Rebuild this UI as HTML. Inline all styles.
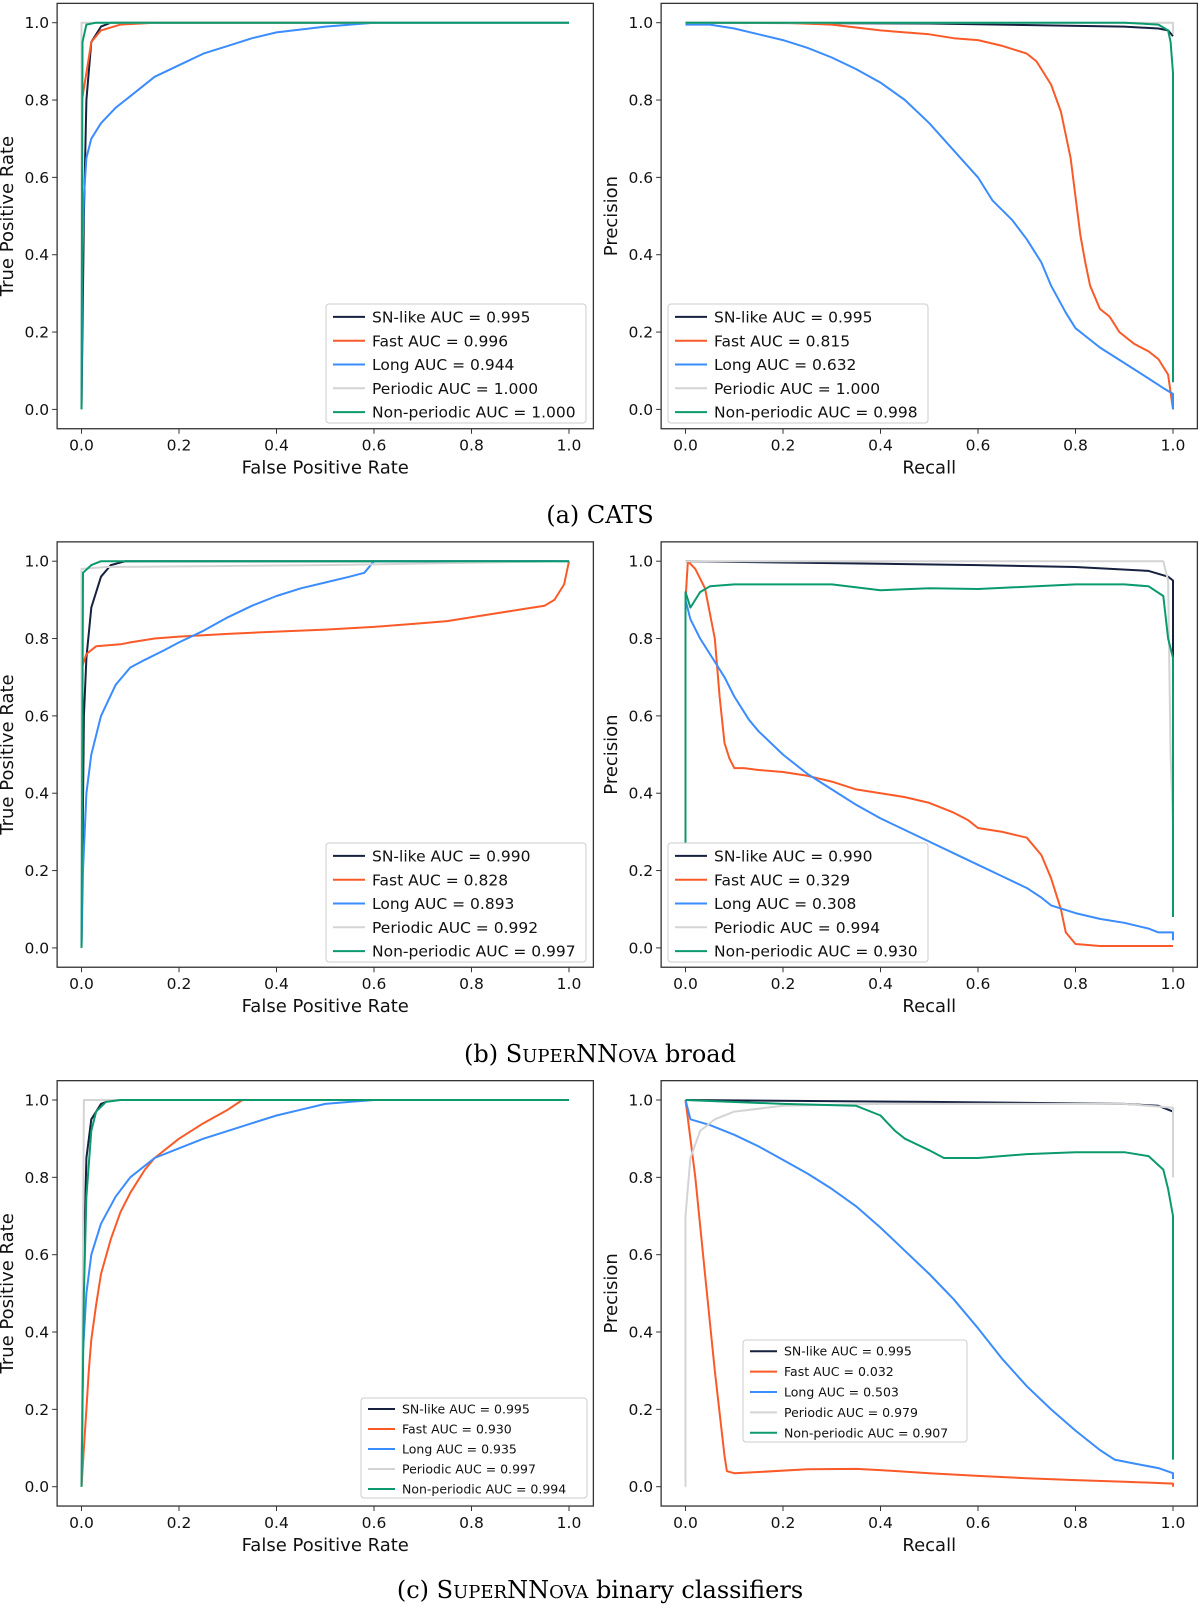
<!DOCTYPE html>
<html><head><meta charset="utf-8">
<style>
html,body{margin:0;padding:0;background:#fff;}
svg{display:block;font-family:"DejaVu Sans","Liberation Sans",sans-serif;}
</style></head>
<body>
<svg id="fig" width="1200" height="1609" viewBox="0 0 1200 1609" xmlns="http://www.w3.org/2000/svg">
<text x="600" y="523" text-anchor="middle" font-family="DejaVu Serif, Liberation Serif, serif" font-size="24">(a) CATS</text>
<text x="600" y="1062" text-anchor="middle" font-family="DejaVu Serif, Liberation Serif, serif" font-size="24">(b) S<tspan font-size="18">UPER</tspan>NN<tspan font-size="18">OVA</tspan> broad</text>
<text x="600" y="1598" text-anchor="middle" font-family="DejaVu Serif, Liberation Serif, serif" font-size="24">(c) S<tspan font-size="18">UPER</tspan>NN<tspan font-size="18">OVA</tspan> binary classifiers</text>
</svg>
<script>
const seriesNames = ["SN-like","Fast","Long","Periodic","Non-periodic"];
const seriesColors = ["#15213f","#fa5a28","#3a8cff","#d4d4d4","#0a9a6e"];
const tickLabels = ["0.0","0.2","0.4","0.6","0.8","1.0"];
const tickValues = [0,0.2,0.4,0.6,0.8,1.0];

// Panel A ROC
const aRocSnX=[0,0.005,0.01,0.02,0.04,0.06,1], aRocSnY=[0,0.5,0.8,0.95,0.99,1,1];
const aRocFastX=[0,0.001,0.01,0.02,0.04,0.08,0.15,1], aRocFastY=[0,0.8,0.87,0.95,0.98,0.995,1,1];
const aRocLongX=[0,0.002,0.005,0.01,0.02,0.04,0.07,0.1,0.15,0.2,0.25,0.3,0.35,0.4,0.5,0.6,1];
const aRocLongY=[0,0.4,0.55,0.65,0.7,0.74,0.78,0.81,0.86,0.89,0.92,0.94,0.96,0.975,0.99,1,1];
const aRocPerX=[0,0,1], aRocPerY=[0,1,1];
const aRocNonX=[0,0.002,0.01,0.03,1], aRocNonY=[0,0.95,0.995,1,1];
const aRocAuc=["0.995","0.996","0.944","1.000","1.000"];
// Panel A PR
const aPrSnX=[0,0.5,0.9,0.97,0.99,1], aPrSnY=[1,0.998,0.99,0.985,0.98,0.965];
const aPrFastX=[0,0.2,0.3,0.4,0.5,0.55,0.6,0.65,0.7,0.72,0.75,0.77,0.79,0.8,0.81,0.82,0.83,0.85,0.87,0.88,0.89,0.92,0.95,0.97,0.99,1];
const aPrFastY=[1,1,0.995,0.98,0.97,0.96,0.955,0.94,0.92,0.9,0.84,0.77,0.65,0.55,0.45,0.38,0.32,0.26,0.24,0.22,0.2,0.17,0.15,0.13,0.09,0];
const aPrLongX=[0,0.05,0.1,0.15,0.2,0.25,0.3,0.35,0.4,0.45,0.5,0.55,0.6,0.63,0.67,0.7,0.73,0.75,0.78,0.8,0.85,0.9,0.95,0.98,1,1];
const aPrLongY=[0.995,0.995,0.985,0.97,0.955,0.935,0.91,0.88,0.845,0.8,0.74,0.67,0.6,0.54,0.49,0.44,0.38,0.32,0.25,0.21,0.16,0.12,0.08,0.055,0.04,0];
const aPrPerX=[0,1,1], aPrPerY=[1,1,0.97];
const aPrNonX=[0,0.9,0.97,0.99,0.995,1,1], aPrNonY=[1,1,0.995,0.98,0.95,0.87,0.07];
const aPrAuc=["0.995","0.815","0.632","1.000","0.998"];
// Panel B ROC
const bRocSnX=[0,0.005,0.01,0.02,0.04,0.06,0.09,1], bRocSnY=[0,0.6,0.75,0.88,0.96,0.99,1,1];
const bRocFastX=[0,0.002,0.01,0.03,0.08,0.1,0.15,0.2,0.3,0.4,0.5,0.6,0.7,0.75,0.8,0.85,0.9,0.95,0.97,0.99,1];
const bRocFastY=[0,0.73,0.76,0.78,0.785,0.79,0.8,0.805,0.812,0.818,0.823,0.83,0.84,0.845,0.855,0.865,0.875,0.885,0.9,0.94,1];
const bRocLongX=[0,0.003,0.01,0.02,0.04,0.07,0.1,0.13,0.17,0.2,0.25,0.3,0.35,0.4,0.45,0.5,0.55,0.58,0.6,1];
const bRocLongY=[0,0.2,0.4,0.5,0.6,0.68,0.725,0.745,0.77,0.79,0.82,0.855,0.885,0.91,0.93,0.945,0.96,0.97,1,1];
const bRocPerX=[0,0,0.05,0.5,1], bRocPerY=[0,0.98,0.985,0.99,1];
const bRocNonX=[0,0.003,0.02,0.04,1], bRocNonY=[0,0.97,0.99,1,1];
const bRocAuc=["0.990","0.828","0.893","0.992","0.997"];
// Panel B PR
const bPrSnX=[0,0.3,0.6,0.8,0.95,0.99,1,1], bPrSnY=[1,0.995,0.99,0.985,0.975,0.96,0.95,0.7];
const bPrFastX=[0,0.005,0.02,0.04,0.06,0.07,0.08,0.09,0.1,0.12,0.15,0.2,0.25,0.3,0.35,0.4,0.45,0.5,0.55,0.58,0.6,0.65,0.7,0.73,0.75,0.77,0.78,0.8,0.85,1];
const bPrFastY=[0.9,1,0.98,0.93,0.8,0.65,0.53,0.49,0.465,0.465,0.46,0.455,0.445,0.43,0.41,0.4,0.39,0.375,0.35,0.33,0.31,0.3,0.285,0.24,0.18,0.1,0.04,0.01,0.005,0.005];
const bPrLongX=[0,0.01,0.03,0.05,0.08,0.1,0.13,0.15,0.2,0.25,0.3,0.35,0.4,0.45,0.5,0.55,0.6,0.65,0.7,0.73,0.75,0.8,0.85,0.9,0.95,0.97,1,1];
const bPrLongY=[0.9,0.85,0.8,0.76,0.7,0.65,0.59,0.56,0.5,0.45,0.41,0.37,0.335,0.305,0.275,0.245,0.215,0.185,0.155,0.13,0.11,0.09,0.075,0.065,0.05,0.04,0.04,0.02];
const bPrPerX=[0,0.98,0.99,0.995,1], bPrPerY=[1,1,0.95,0.5,0.32];
const bPrNonX=[0,0,0.01,0.03,0.05,0.1,0.3,0.4,0.5,0.6,0.8,0.9,0.95,0.98,0.99,1,1];
const bPrNonY=[0.27,0.92,0.88,0.92,0.935,0.94,0.94,0.925,0.93,0.928,0.94,0.94,0.935,0.91,0.8,0.75,0.08];
const bPrAuc=["0.990","0.329","0.308","0.994","0.930"];
// Panel C ROC
const cRocSnX=[0,0.005,0.01,0.02,0.04,0.06,1], cRocSnY=[0,0.6,0.85,0.95,0.99,1,1];
const cRocFastX=[0,0.005,0.01,0.015,0.02,0.03,0.04,0.06,0.08,0.1,0.13,0.15,0.2,0.25,0.3,0.33,1];
const cRocFastY=[0,0.1,0.2,0.3,0.38,0.47,0.55,0.64,0.71,0.76,0.82,0.85,0.9,0.94,0.975,1,1];
const cRocLongX=[0,0.003,0.01,0.02,0.04,0.07,0.1,0.15,0.2,0.25,0.3,0.35,0.4,0.45,0.5,0.55,0.6,1];
const cRocLongY=[0,0.35,0.5,0.6,0.68,0.75,0.8,0.85,0.875,0.9,0.92,0.94,0.96,0.975,0.99,0.995,1,1];
const cRocPerX=[0,0.005,1], cRocPerY=[0,1,1];
const cRocNonX=[0,0.005,0.01,0.02,0.03,0.05,0.08,1], cRocNonY=[0,0.5,0.75,0.92,0.97,0.995,1,1];
const cRocAuc=["0.995","0.930","0.935","0.997","0.994"];
// Panel C PR
const cPrSnX=[0,0.5,0.9,0.97,1,1], cPrSnY=[1,0.995,0.99,0.985,0.97,0.96];
const cPrFastX=[0,0.02,0.04,0.06,0.08,0.085,0.1,0.15,0.25,0.35,0.4,0.5,0.6,0.7,0.8,0.9,1,1];
const cPrFastY=[1,0.8,0.55,0.3,0.08,0.04,0.035,0.038,0.045,0.046,0.043,0.035,0.028,0.022,0.017,0.013,0.008,0];
const cPrLongX=[0,0.01,0.05,0.1,0.15,0.2,0.25,0.3,0.35,0.4,0.45,0.5,0.55,0.6,0.65,0.7,0.75,0.8,0.85,0.88,0.92,0.97,1,1];
const cPrLongY=[1,0.95,0.935,0.91,0.88,0.845,0.81,0.77,0.725,0.67,0.61,0.55,0.485,0.41,0.33,0.26,0.2,0.145,0.095,0.07,0.06,0.048,0.035,0.02];
const cPrPerX=[0,0,0.01,0.03,0.06,0.1,0.2,0.4,0.9,1,1], cPrPerY=[0,0.7,0.85,0.92,0.95,0.97,0.985,0.99,0.99,0.98,0.8];
const cPrNonX=[0,0.2,0.35,0.4,0.43,0.45,0.5,0.53,0.6,0.7,0.8,0.9,0.95,0.98,0.99,1,1];
const cPrNonY=[1,0.99,0.985,0.96,0.92,0.9,0.87,0.85,0.85,0.86,0.865,0.865,0.855,0.82,0.77,0.7,0.07];
const cPrAuc=["0.995","0.032","0.503","0.979","0.907"];

const NS="http://www.w3.org/2000/svg";
const svg=document.getElementById('fig');
function mk(tag,attrs,parent){const e=document.createElementNS(NS,tag);for(const k in attrs)e.setAttribute(k,attrs[k]);(parent||svg).appendChild(e);return e;}

const XS=487.5, YS=386.7;
const panels=[
 {id:'a-roc',x0:81.5,y1:22.7,xl:'False Positive Rate',yl:'True Positive Rate',s:[[aRocSnX,aRocSnY],[aRocFastX,aRocFastY],[aRocLongX,aRocLongY],[aRocPerX,aRocPerY],[aRocNonX,aRocNonY]],auc:aRocAuc,leg:[326,304,260,119,15.5]},
 {id:'a-pr',x0:685.5,y1:22.7,xl:'Recall',yl:'Precision',s:[[aPrSnX,aPrSnY],[aPrFastX,aPrFastY],[aPrLongX,aPrLongY],[aPrPerX,aPrPerY],[aPrNonX,aPrNonY]],auc:aPrAuc,leg:[668,304,260,119,15.5]},
 {id:'b-roc',x0:81.5,y1:561.2,xl:'False Positive Rate',yl:'True Positive Rate',s:[[bRocSnX,bRocSnY],[bRocFastX,bRocFastY],[bRocLongX,bRocLongY],[bRocPerX,bRocPerY],[bRocNonX,bRocNonY]],auc:bRocAuc,leg:[326,843,260,119,15.5]},
 {id:'b-pr',x0:685.5,y1:561.2,xl:'Recall',yl:'Precision',s:[[bPrSnX,bPrSnY],[bPrFastX,bPrFastY],[bPrLongX,bPrLongY],[bPrPerX,bPrPerY],[bPrNonX,bPrNonY]],auc:bPrAuc,leg:[668,843,260,119,15.5]},
 {id:'c-roc',x0:81.5,y1:1100,xl:'False Positive Rate',yl:'True Positive Rate',s:[[cRocSnX,cRocSnY],[cRocFastX,cRocFastY],[cRocLongX,cRocLongY],[cRocPerX,cRocPerY],[cRocNonX,cRocNonY]],auc:cRocAuc,leg:[361,1398,226,100,12.5]},
 {id:'c-pr',x0:685.5,y1:1100,xl:'Recall',yl:'Precision',s:[[cPrSnX,cPrSnY],[cPrFastX,cPrFastY],[cPrLongX,cPrLongY],[cPrPerX,cPrPerY],[cPrNonX,cPrNonY]],auc:cPrAuc,leg:[743,1340,224,102,12.5]}
];

panels.forEach(p=>{
  const g=mk('g',{});
  
  
  const sx=v=>p.x0+v*XS, sy=v=>p.y1+(1-v)*YS;
  const L=sx(-0.05),R=sx(1.05),T=sy(1.05),B=sy(-0.05);
  p.s.forEach((s,i)=>{
    const pts=s[0].map((x,j)=>sx(x).toFixed(1)+','+sy(s[1][j]).toFixed(1)).join(' ');
    const pl=mk('polyline',{points:pts,fill:'none',stroke:seriesColors[i],'stroke-width':2,'stroke-linejoin':'round'},g);
    
    
  });
  const fr=mk('rect',{x:L,y:T,width:R-L,height:B-T,fill:'none',stroke:'#333','stroke-width':1.3},g);
  
  
  tickValues.forEach((v,i)=>{
    mk('line',{x1:sx(v),x2:sx(v),y1:B,y2:B+5,stroke:'#333','stroke-width':1},g);
    const tx=mk('text',{x:sx(v),y:B+22,'text-anchor':'middle','font-size':15.5,fill:'#111'},g);
    tx.textContent=tickLabels[i];
    
    
    mk('line',{x1:L-5,x2:L,y1:sy(v),y2:sy(v),stroke:'#333','stroke-width':1},g);
    const ty=mk('text',{x:L-8,y:sy(v)+5.5,'text-anchor':'end','font-size':15.5,fill:'#111'},g);
    ty.textContent=tickLabels[i];
    
    
  });
  const xt=mk('text',{x:(L+R)/2,y:B+45,'text-anchor':'middle','font-size':18,fill:'#111'},g);
  xt.textContent=p.xl;
  
  
  const cy=(T+B)/2, cx=L-44;
  const yt=mk('text',{x:cx,y:cy,'text-anchor':'middle','font-size':18,fill:'#111',transform:`rotate(-90 ${cx} ${cy})`},g);
  yt.textContent=p.yl;
  
  
  const [lx,ly,lw,lh,fs]=p.leg;
  const lg=mk('g',{},g);
  
  
  mk('rect',{x:lx,y:ly,width:lw,height:lh,rx:3,fill:'#fff','fill-opacity':0.85,stroke:'#ccc','stroke-width':1},lg);
  const step=lh/5;
  seriesNames.forEach((n,i)=>{
    const yy=ly+step*(i+0.5)+1;
    const sw=fs>14?32:27;
    mk('line',{x1:lx+7,x2:lx+7+sw,y1:yy,y2:yy,stroke:seriesColors[i],'stroke-width':2},lg);
    const t=mk('text',{x:lx+14+sw,y:yy+fs*0.36,'font-size':fs,fill:'#111'},lg);
    t.textContent=n+' AUC = '+p.auc[i];
    
    
  });
});
</script>
</body></html>
